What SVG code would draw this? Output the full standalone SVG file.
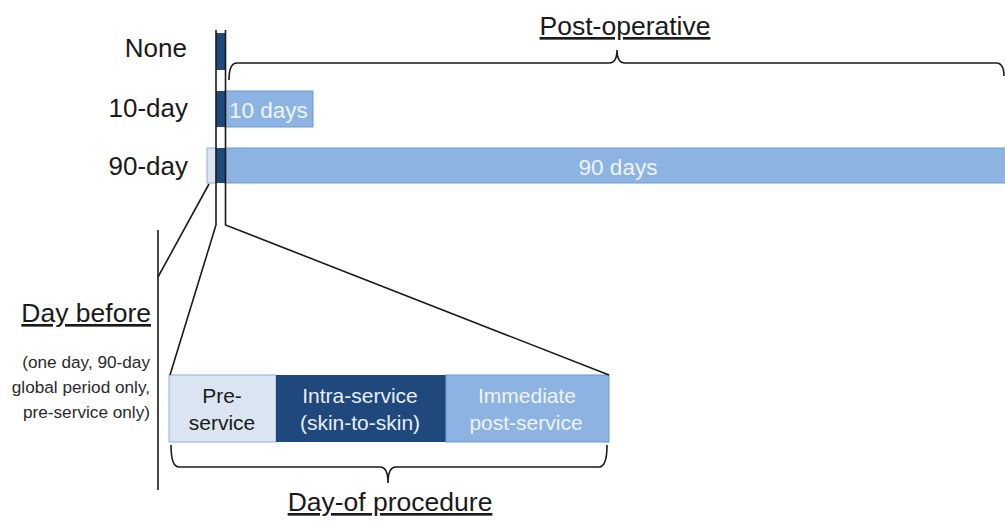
<svg xmlns="http://www.w3.org/2000/svg" width="1005" height="521" viewBox="0 0 1005 521">
<style>
text{font-family:"Liberation Sans",Arial,sans-serif;}
.lbl{font-size:26px;fill:#1a1a1a;text-anchor:end;}
.hdr{font-size:26.5px;fill:#1a1a1a;text-decoration:underline;}
.small{font-size:17.2px;fill:#2a2a2a;text-anchor:end;}
.box{font-size:21px;text-anchor:middle;}
.dark{fill:#1f497d;}
.mid{fill:#8db3e2;stroke:#6f9bd0;stroke-width:1;}
.light{fill:#dbe5f1;stroke:#8eb1dc;stroke-width:1;}
.ln{fill:none;stroke:#1a1a1a;stroke-width:1.6;}
</style>
<rect width="1005" height="521" fill="#ffffff"/>
<g id="bar-none">
<rect class="dark" x="216" y="33" width="9" height="37"/>
</g>
<g id="bar-10day">
<rect class="mid" x="225" y="91" width="88" height="36"/>
<rect class="dark" x="216" y="91" width="9" height="36"/>
<text x="229" y="118" style="font-size:22.5px;fill:#eef3fa">10 days</text>
</g>
<g id="bar-90day">
<rect class="light" x="207" y="148" width="9" height="35"/>
<rect class="mid" x="225" y="148" width="782" height="35"/>
<rect class="dark" x="216" y="148" width="9" height="35"/>
<text x="618" y="175" style="font-size:22.5px;fill:#eef3fa;text-anchor:middle">90 days</text>
</g>
<g id="row-labels">
<text class="lbl" x="187" y="57">None</text>
<text class="lbl" x="188" y="117">10-day</text>
<text class="lbl" x="188" y="175">90-day</text>
</g>
<g id="post-operative">
<text class="hdr" x="625" y="35" text-anchor="middle">Post-operative</text>
</g>
<g id="day-before">
<text class="hdr" x="151" y="322" text-anchor="end">Day before</text>
<text class="small" x="150" y="368">(one day, 90-day</text>
<text class="small" x="150" y="393">global period only,</text>
<text class="small" x="150" y="418">pre-service only)</text>
</g>
<g id="pre-service">
<rect class="light" x="169" y="375" width="107" height="67"/>
<text class="box" x="222" y="403" fill="#1a1a1a">Pre-</text>
<text class="box" x="222" y="430" fill="#1a1a1a">service</text>
</g>
<g id="intra-service">
<rect class="dark" x="276" y="375" width="170" height="67"/>
<text class="box" x="360" y="403" fill="#e8eef7">Intra-service</text>
<text class="box" x="360" y="430" fill="#e8eef7">(skin-to-skin)</text>
</g>
<g id="immediate-post-service">
<rect class="mid" x="446" y="375" width="163" height="67"/>
<text class="box" x="527" y="403" fill="#eef3fa">Immediate</text>
<text class="box" x="526" y="430" fill="#eef3fa">post-service</text>
</g>
<g id="day-of-procedure">
<text class="hdr" x="390" y="511" text-anchor="middle">Day-of procedure</text>
</g>
<g id="connectors">
<path class="ln" d="M216,30 L216,225 L170,375"/>
<path class="ln" d="M225.5,30 L225.5,225 L609,375"/>
<path class="ln" d="M209,184 L158,277"/>
<path class="ln" d="M158,230 L158,490"/>
<path class="ln" d="M229,80 Q229,63 237,63 L609,63 Q617,63 617,50 Q617,63 625,63 L996,63 Q1004,63 1004,76" stroke-width="1.3"/>
<path class="ln" d="M171,445 Q171,467 179,467 L380,467 Q388,467 388,483 Q388,467 396,467 L599,467 Q607,467 607,445" stroke-width="1.3"/>
</g>
</svg>
